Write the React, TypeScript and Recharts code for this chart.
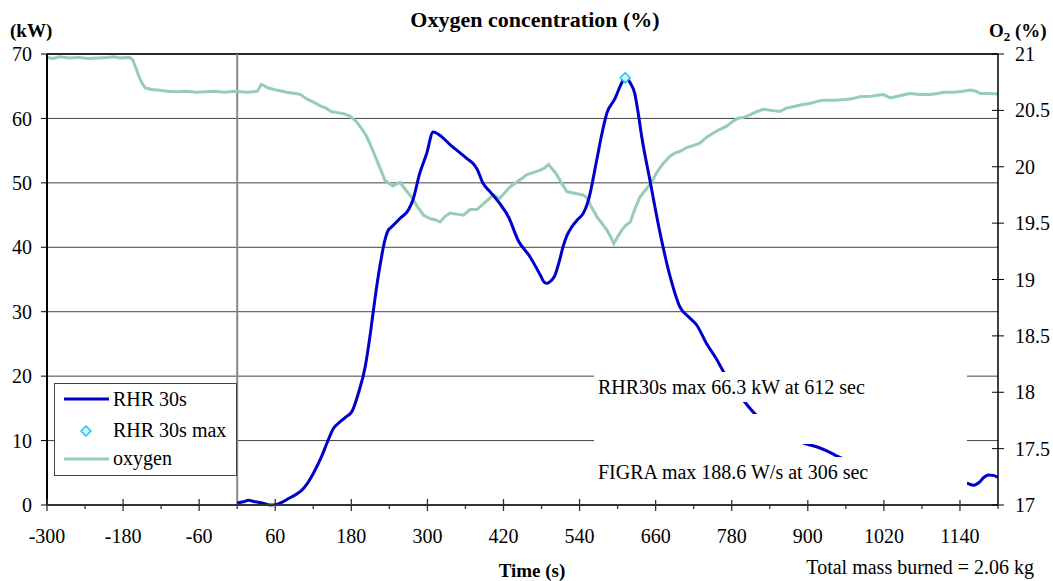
import React from 'react';
import { ComposedChart, Line, XAxis, YAxis, CartesianGrid, ReferenceLine } from 'recharts';

const FONT = '"Liberation Serif", "Times New Roman", serif';

// RHR 30s (kW) vs time (s)
const rhrTime = [0, 10, 18, 26, 35, 45, 52, 62, 72, 81, 92, 102, 111, 120, 133, 142, 152, 162, 172, 181, 191, 202, 210, 217, 225, 233, 238, 244, 257, 270, 277, 288, 299, 309, 322, 336, 351, 362, 372, 378, 388, 399, 414, 428, 443, 462, 478, 484, 489, 495, 501, 508, 514, 520, 528, 537, 546, 554, 567, 575, 583, 596, 605, 612, 620, 627, 633, 638, 651, 667, 683, 698, 712, 725, 740, 755, 767, 780, 798, 817, 835, 855, 875, 897, 915, 930, 948, 970, 1000, 1040, 1080, 1120, 1145, 1152, 1161, 1170, 1178, 1185, 1192, 1200];
const rhrKw = [0.3, 0.5, 0.75, 0.55, 0.4, 0.15, 0.0, 0.1, 0.5, 1.0, 1.6, 2.3, 3.4, 4.9, 7.5, 9.7, 11.9, 12.9, 13.7, 14.5, 17.3, 21.5, 26.6, 31.8, 37.0, 41.1, 42.6, 43.2, 44.5, 45.8, 47.3, 51.5, 54.6, 57.9, 57.2, 55.9, 54.7, 53.8, 53.0, 52.2, 49.9, 48.6, 46.8, 44.7, 41.1, 38.5, 35.7, 34.6, 34.4, 34.8, 35.6, 37.8, 40.1, 41.8, 43.2, 44.3, 45.3, 47.3, 53.5, 57.5, 60.8, 63.1, 65.2, 66.3, 65.5, 63.9, 60.5, 57.2, 50.4, 42.2, 35.4, 30.8, 29.2, 27.9, 25.1, 22.8, 20.7, 18.6, 16.3, 14.1, 12.5, 11.3, 10.3, 9.5, 9.0, 8.4, 7.5, 6.6, 5.8, 4.8, 4.1, 3.6, 3.4, 3.35, 3.06, 3.5, 4.3, 4.66, 4.6, 4.3];

// Oxygen concentration (%) vs time (s)
const o2Time = [-300, -290, -280, -265, -250, -235, -220, -205, -195, -185, -170, -165, -160, -155, -150, -145, -135, -125, -110, -95, -80, -65, -50, -35, -20, -5, 5, 15, 25, 32, 38, 42, 48, 62, 78, 92, 100, 110, 118, 131, 140, 148, 158, 168, 178, 188, 196, 204, 212, 220, 228, 233, 240, 246, 252, 257, 265, 275, 285, 294, 304, 312, 320, 328, 336, 346, 357, 367, 378, 386, 394, 404, 414, 422, 430, 440, 450, 457, 468, 478, 485, 491, 497, 504, 512, 520, 528, 536, 545, 551, 559, 567, 575, 583, 589, 594, 600, 607, 613, 620, 627, 635, 645, 654, 663, 672, 682, 690, 700, 709, 720, 730, 740, 751, 761, 772, 781, 790, 800, 809, 820, 830, 842, 856, 866, 875, 890, 903, 915, 924, 945, 967, 982, 1000, 1019, 1030, 1045, 1061, 1077, 1093, 1105, 1114, 1130, 1145, 1156, 1165, 1172, 1185, 1200];
const o2Pct = [20.97, 20.96, 20.975, 20.965, 20.97, 20.96, 20.965, 20.97, 20.975, 20.965, 20.97, 20.95, 20.88, 20.8, 20.74, 20.7, 20.685, 20.68, 20.67, 20.665, 20.67, 20.66, 20.665, 20.67, 20.66, 20.67, 20.665, 20.66, 20.665, 20.67, 20.73, 20.72, 20.7, 20.68, 20.66, 20.65, 20.64, 20.6, 20.58, 20.54, 20.52, 20.49, 20.48, 20.47, 20.45, 20.4, 20.34, 20.27, 20.17, 20.06, 19.95, 19.88, 19.85, 19.83, 19.85, 19.86, 19.8, 19.73, 19.64, 19.57, 19.54, 19.53, 19.51, 19.56, 19.59, 19.58, 19.57, 19.62, 19.62, 19.66, 19.7, 19.75, 19.72, 19.77, 19.82, 19.86, 19.9, 19.93, 19.95, 19.97, 19.99, 20.02, 19.98, 19.93, 19.85, 19.78, 19.77, 19.76, 19.75, 19.73, 19.64, 19.56, 19.5, 19.44, 19.38, 19.32, 19.38, 19.44, 19.48, 19.51, 19.62, 19.73, 19.8, 19.87, 19.96, 20.03, 20.09, 20.12, 20.14, 20.17, 20.19, 20.21, 20.26, 20.3, 20.33, 20.36, 20.4, 20.43, 20.44, 20.46, 20.49, 20.51, 20.5, 20.49, 20.52, 20.53, 20.55, 20.56, 20.58, 20.59, 20.59, 20.6, 20.62, 20.625, 20.64, 20.61, 20.63, 20.65, 20.64, 20.64, 20.65, 20.66, 20.66, 20.67, 20.68, 20.67, 20.65, 20.65, 20.645];

// RHR 30s max point
const peakTime = [612];
const peakKw = [66.3];

const xTicks = [-300, -240, -180, -120, -60, 0, 60, 120, 180, 240, 300, 360, 420, 480, 540, 600, 660, 720, 780, 840, 900, 960, 1020, 1080, 1140, 1200];
const xLabelTicks = [-300, -180, -60, 60, 180, 300, 420, 540, 660, 780, 900, 1020, 1140];
const leftTicks = [0, 10, 20, 30, 40, 50, 60, 70];
const rightTicks = [17, 17.5, 18, 18.5, 19, 19.5, 20, 20.5, 21];

const seriesNames = ['RHR 30s', 'RHR 30s max', 'oxygen'];
const annotations = ['RHR30s max 66.3 kW at 612 sec', 'FIGRA max 188.6 W/s at 306 sec'];
const titleText = 'Oxygen concentration (%)';
const xTitle = 'Time (s)';
const massText = 'Total mass burned = 2.06 kg';

const BLUE = '#0000CC';
const GREEN = '#96CDB4';
const DIAMOND_STROKE = '#22C4F0';
const DIAMOND_FILL = '#CCF6FF';

const rhrData = rhrTime.map((t, i) => ({ t, rhr: rhrKw[i] }));
const o2Data = o2Time.map((t, i) => ({ t, o2: o2Pct[i] }));
const peakData = peakTime.map((t, i) => ({ t, peak: peakKw[i] }));

const XTick = (props: any) => {
  const { x, y, payload } = props;
  const v = payload.value;
  const major = xLabelTicks.includes(v);
  return (
    <g>
      <line x1={x} x2={x} y1={major ? y - 6 : y} y2={major ? y + 6 : y + 4} stroke="#333" strokeWidth={1.3} />
      {major && (
        <text x={x} y={y + 38} textAnchor="middle" fontSize={20} fontFamily={FONT} fill="#000">
          {v}
        </text>
      )}
    </g>
  );
};

const RTick = (props: any) => {
  const { x, y, payload } = props;
  return (
    <g>
      <line x1={x - 23} x2={x - 11} y1={y} y2={y} stroke="#000" strokeWidth={1} />
      <text x={x} y={y} dy="0.35em" textAnchor="start" fontSize={20} fontFamily={FONT} fill="#000">
        {payload.value}
      </text>
    </g>
  );
};

const Diamond = (props: any) => {
  const { cx, cy } = props;
  if (cx == null || cy == null) return null;
  const r = 5;
  return (
    <polygon
      points={`${cx},${cy - r} ${cx + r},${cy} ${cx},${cy + r} ${cx - r},${cy}`}
      fill={DIAMOND_FILL}
      stroke={DIAMOND_STROKE}
      strokeWidth={1.5}
    />
  );
};

export default function App() {
  return (
    <div style={{ position: 'absolute', left: 0, top: 0, width: 1053, height: 581, background: '#fff' }}>
      <ComposedChart width={1053} height={581} margin={{ top: 54, right: 0, bottom: 0, left: 0 }}>
        <CartesianGrid yAxisId="left" vertical={false} stroke="#444" strokeWidth={1} />
        <XAxis
          dataKey="t"
          type="number"
          domain={[-300, 1200]}
          ticks={xTicks}
          interval={0}
          height={76}
          tickSize={0}
          tickMargin={0}
          tickLine={false}
          axisLine={{ stroke: '#333', strokeWidth: 2 }}
          tick={<XTick />}
          allowDataOverflow
        />
        <YAxis
          yAxisId="left"
          orientation="left"
          domain={[0, 70]}
          ticks={leftTicks}
          interval={0}
          width={47}
          tickSize={6}
          tickMargin={9}
          tickLine={{ stroke: '#000' }}
          axisLine={{ stroke: '#000', strokeWidth: 2 }}
          tick={{ fill: '#000', fontSize: 20, fontFamily: FONT }}
        />
        <YAxis
          yAxisId="right"
          orientation="right"
          domain={[17, 21]}
          ticks={rightTicks}
          interval={0}
          width={55}
          tickSize={0}
          tickMargin={17}
          tickLine={false}
          axisLine={{ stroke: '#000', strokeWidth: 1.5 }}
          tick={<RTick />}
        />
        <ReferenceLine yAxisId="left" y={70} stroke="#000" strokeWidth={1.5} />
        <ReferenceLine yAxisId="left" x={0} stroke="#888" strokeWidth={2} />
        <Line
          yAxisId="right"
          data={o2Data}
          dataKey="o2"
          type="linear"
          stroke={GREEN}
          strokeWidth={3}
          dot={false}
          isAnimationActive={false}
        />
        <Line
          yAxisId="left"
          data={rhrData}
          dataKey="rhr"
          type="monotone"
          stroke={BLUE}
          strokeWidth={3}
          dot={false}
          isAnimationActive={false}
        />
        <Line
          yAxisId="left"
          data={peakData}
          dataKey="peak"
          stroke="none"
          dot={<Diamond />}
          isAnimationActive={false}
        />
      </ComposedChart>
      <svg
        width={1053}
        height={581}
        style={{ position: 'absolute', left: 0, top: 0, pointerEvents: 'none' }}
        fontFamily={FONT}
      >
        <text x={535} y={27} textAnchor="middle" fontSize={22} fontWeight="bold" fill="#000">{titleText}</text>
        <text x={10} y={37} fontSize={19} fontWeight="bold" fill="#000">(kW)</text>
        <text x={989} y={37} fontSize={19} fontWeight="bold" fill="#000">
          O<tspan fontSize={13} dy={4}>2</tspan><tspan dy={-4}> (%)</tspan>
        </text>
        <text x={532} y={577} textAnchor="middle" fontSize={19} fontWeight="bold" fill="#000">{xTitle}</text>
        <text x={1034} y={574} textAnchor="end" fontSize={20} fill="#000">{massText}</text>

        <rect x={594} y={372} width={373} height={30} fill="#fff" />
        <rect x={594} y={414} width={373} height={30} fill="#fff" />
        <rect x={594} y={457} width={373} height={43} fill="#fff" />
        <text x={598} y={394} fontSize={20} fill="#000">{annotations[0]}</text>
        <text x={598} y={479} fontSize={20} fill="#000">{annotations[1]}</text>

        <rect x={54.5} y={383.5} width={182} height={92} fill="#fff" stroke="#444" strokeWidth={1} />
        <line x1={64} x2={109} y1={399} y2={399} stroke={BLUE} strokeWidth={3} />
        <text x={113} y={406} fontSize={20} fill="#000">{seriesNames[0]}</text>
        <Diamond cx={86} cy={431} />
        <text x={113} y={437} fontSize={20} fill="#000">{seriesNames[1]}</text>
        <line x1={64} x2={109} y1={459} y2={459} stroke={GREEN} strokeWidth={3} />
        <text x={113} y={465} fontSize={20} fill="#000">{seriesNames[2]}</text>
      </svg>
    </div>
  );
}
